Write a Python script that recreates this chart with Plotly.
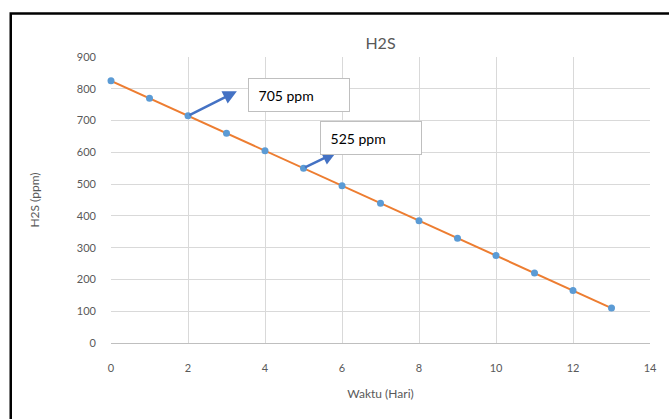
import plotly.graph_objects as go

days = [0, 1, 2, 3, 4, 5, 6, 7, 8, 9, 10, 11, 12, 13]
h2s = [825, 770, 715, 660, 605, 550, 495, 440, 385, 330, 275, 220, 165, 110]

x_ticks = [0, 2, 4, 6, 8, 10, 12, 14]
y_ticks = [0, 100, 200, 300, 400, 500, 600, 700, 800, 900]

labels = ["705 ppm", "525 ppm"]
arrow_tails = [(2, 715), (5, 550)]
arrow_heads = [(3.27, 792), (5.85, 600)]
box_centers = [(4.88, 779), (6.745, 646.5)]

FONT = "Lato, 'Open Sans', sans-serif"
GRAY = "#595959"

fig = go.Figure()
fig.add_trace(go.Scatter(
    x=days, y=h2s, mode="lines+markers",
    line=dict(color="#ED7D31", width=2),
    marker=dict(color="#5B9BD5", size=7),
    showlegend=False, cliponaxis=False,
))

annotations = []
for (tx, ty), (hx, hy) in zip(arrow_tails, arrow_heads):
    annotations.append(dict(
        x=hx, y=hy, ax=tx, ay=ty, xref="x", yref="y", axref="x", ayref="y",
        text="", showarrow=True, arrowhead=2, arrowsize=1.1, arrowwidth=2.5,
        arrowcolor="#4472C4",
    ))
for (cx, cy), lab in zip(box_centers, labels):
    annotations.append(dict(
        x=cx, y=cy, xref="x", yref="y", text="&nbsp;" + lab, showarrow=False,
        width=88, height=20, align="left", valign="middle",
        bgcolor="white", bordercolor="#BFBFBF", borderwidth=1, borderpad=6,
        font=dict(family=FONT, size=14, color="black"),
        xanchor="center", yanchor="middle",
    ))

fig.update_layout(
    width=669, height=419,
    margin=dict(l=111, r=15, t=57, b=76),
    paper_bgcolor="white", plot_bgcolor="white",
    title=dict(text="H2S", x=0.5, xref="paper", xanchor="center",
               y=1 - 43 / 419, yanchor="middle",
               font=dict(family=FONT, size=16, color=GRAY)),
    annotations=annotations,
    shapes=[dict(type="rect", xref="paper", yref="paper",
                 x0=-0.186, x1=1.2, y0=-0.6, y1=1.152,
                 line=dict(color="black", width=2.5), layer="above")],
)
fig.update_xaxes(
    range=[0, 14], tickvals=x_ticks, showgrid=True, gridcolor="#D9D9D9",
    zeroline=False, showline=True, linecolor="#BFBFBF", linewidth=1,
    ticks="", ticklabelstandoff=15,
    tickfont=dict(family=FONT, size=11, color=GRAY),
    title=dict(text="Waktu (Hari)", standoff=16,
               font=dict(family=FONT, size=12, color=GRAY)),
)
fig.update_yaxes(
    range=[0, 900], tickvals=y_ticks, showgrid=True, gridcolor="#D9D9D9",
    zeroline=False, showline=False, ticks="", ticklabelstandoff=14,
    tickfont=dict(family=FONT, size=11, color=GRAY),
    title=dict(text="H2S (ppm)", standoff=34,
               font=dict(family=FONT, size=12, color=GRAY)),
)

fig.write_html("out.html")
